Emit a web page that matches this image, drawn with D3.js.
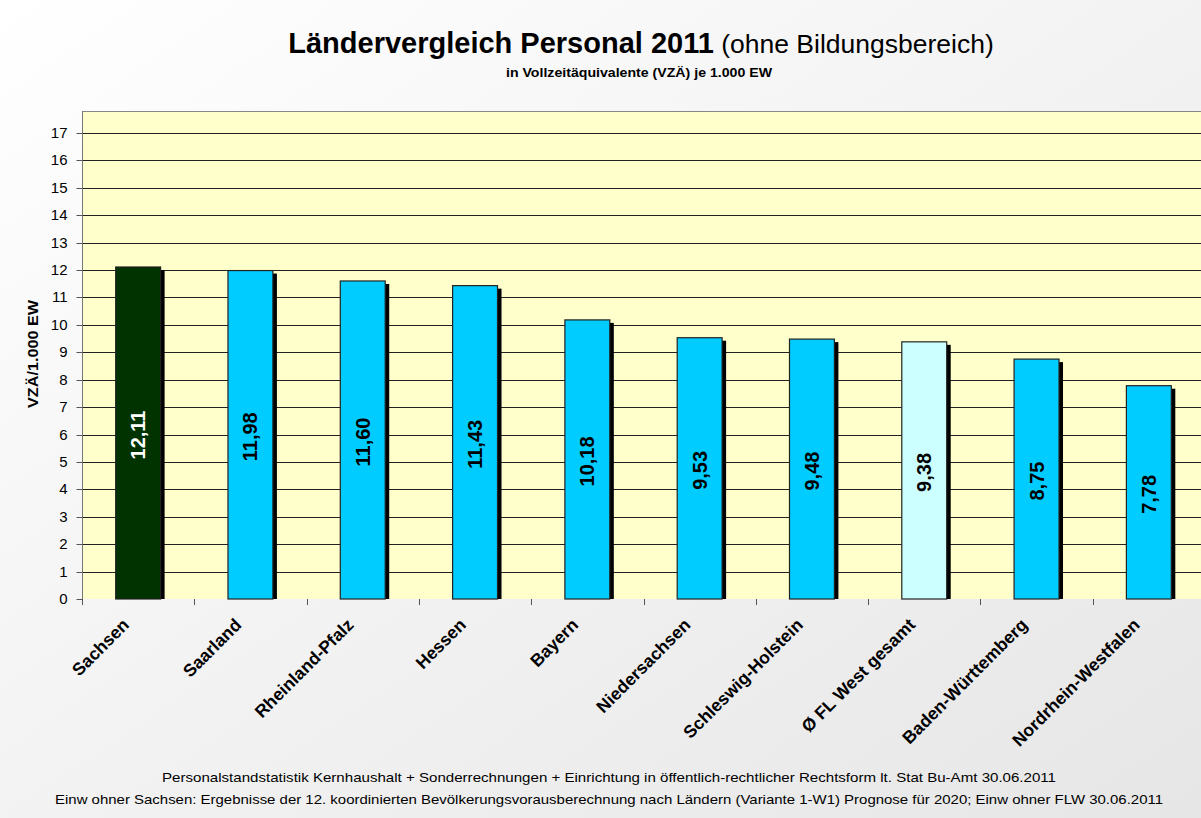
<!DOCTYPE html>
<html>
<meta charset="utf-8">
<title>Ländervergleich Personal 2011</title>
<style>
  body { margin: 0; overflow: hidden; }
  svg { display: block; font-family: "Liberation Sans", Arial, sans-serif; }
  .tick text { font-size: 15px; fill: #000; }
</style>
<body>
<div id="chart"></div>
<script src="https://cdnjs.cloudflare.com/ajax/libs/d3/7.8.5/d3.min.js"></script>
<script>

const laender = ['Sachsen', 'Saarland', 'Rheinland-Pfalz', 'Hessen', 'Bayern', 'Niedersachsen',
  'Schleswig-Holstein', 'Ø FL West gesamt', 'Baden-Württemberg', 'Nordrhein-Westfalen'];
const vza = [12.11, 11.98, 11.60, 11.43, 10.18, 9.53, 9.48, 9.38, 8.75, 7.78];
const yTicks = d3.range(0, 18);

const W = 1201, H = 818;
const margin = { top: 111, right: -4, bottom: 219, left: 82 };
const width = W - margin.left - margin.right;
const height = H - margin.top - margin.bottom; // 17 lands at y=133

const fill = d => d === 'Sachsen' ? '#003300' : (d === 'Ø FL West gesamt' ? '#ccffff' : '#00ccff');
const fmt = v => d3.format('.2f')(v).replace('.', ',');

const svg = d3.select('#chart').append('svg')
  .attr('width', W)
  .attr('height', H);

const grad = svg.append('defs').append('linearGradient')
  .attr('id', 'bg').attr('x1', 0).attr('y1', 0).attr('x2', 1).attr('y2', 1);
grad.append('stop').attr('offset', 0).attr('stop-color', '#ffffff');
grad.append('stop').attr('offset', 1).attr('stop-color', '#e6e6e6');

svg.append('rect').attr('width', W).attr('height', H).attr('fill', 'url(#bg)');

// titles
const title = svg.append('text')
  .attr('x', 641).attr('y', 53)
  .attr('text-anchor', 'middle');
title.append('tspan').attr('font-size', 29).attr('font-weight', 'bold').text('Ländervergleich Personal 2011');
title.append('tspan').attr('font-size', 26.5).text(' (ohne Bildungsbereich)');

svg.append('text')
  .attr('x', 639).attr('y', 77)
  .attr('text-anchor', 'middle')
  .attr('font-size', 13).attr('font-weight', 'bold')
  .attr('textLength', 266).attr('lengthAdjust', 'spacingAndGlyphs')
  .text('in Vollzeitäquivalente (VZÄ) je 1.000 EW');

const g = svg.append('g')
  .attr('transform', `translate(${margin.left},${margin.top})`);

const x = d3.scaleBand()
  .domain(laender)
  .range([0, 1123])
  .paddingInner(0.6)
  .paddingOuter(0.3);

const y = d3.scaleLinear()
  .domain([0, 17.8])
  .range([height, 0]);

g.append('rect')
  .attr('width', width).attr('height', height)
  .attr('fill', '#ffffcc');

g.append('line').attr('x1', 0).attr('x2', width).attr('y1', 0.5).attr('y2', 0.5)
  .attr('stroke', '#888');

// gridlines
g.append('g').selectAll('line')
  .data(yTicks.slice(1))
  .join('line')
  .attr('x1', 0).attr('x2', width)
  .attr('y1', d => Math.round(y(d)) + 0.5).attr('y2', d => Math.round(y(d)) + 0.5)
  .attr('stroke', '#222');

// y axis
const yAxis = g.append('g')
  .attr('transform', 'translate(0.5,0)')
  .call(d3.axisLeft(y).tickValues(yTicks).tickSize(6).tickPadding(9).tickFormat(d3.format('d')));
yAxis.select('.domain').attr('stroke', '#777').attr('d', `M0,0V${height + 6}`);
yAxis.selectAll('.tick line').attr('stroke', '#555');
yAxis.selectAll('.tick').attr('transform', d => `translate(0,${Math.round(y(d)) + 0.5})`);

// x axis ticks at band boundaries
const step = x.step();
g.append('g').selectAll('line')
  .data(d3.range(0, laender.length + 1))
  .join('line')
  .attr('x1', i => Math.round(i * step) + 0.5).attr('x2', i => Math.round(i * step) + 0.5)
  .attr('y1', height).attr('y2', height + 6)
  .attr('stroke', '#555');

// shadows
g.append('g').selectAll('rect')
  .data(laender)
  .join('rect')
  .attr('x', d => x(d) + 4)
  .attr('y', (d, i) => y(vza[i]) + 3)
  .attr('width', x.bandwidth())
  .attr('height', (d, i) => height - y(vza[i]) - 3)
  .attr('fill', '#000');

// bars
g.append('g').selectAll('rect')
  .data(laender)
  .join('rect')
  .attr('x', d => x(d))
  .attr('y', (d, i) => y(vza[i]))
  .attr('width', x.bandwidth())
  .attr('height', (d, i) => height - y(vza[i]))
  .attr('fill', d => fill(d))
  .attr('stroke', '#222')
  .attr('stroke-width', 1.2);

// value labels
g.append('g').selectAll('text')
  .data(laender)
  .join('text')
  .attr('transform', (d, i) => `translate(${x(d) + x.bandwidth() / 2 + 7},${(y(vza[i]) + height) / 2 + 2}) rotate(-90)`)
  .attr('text-anchor', 'middle')
  .attr('font-size', 20).attr('font-weight', 'bold')
  .attr('fill', d => d === 'Sachsen' ? '#fff' : '#000')
  .text((d, i) => fmt(vza[i]));

// category labels
g.append('g').selectAll('text')
  .data(laender)
  .join('text')
  .attr('transform', d => `translate(${x(d) + x.bandwidth() / 2 - 8},${height + 27}) rotate(-45)`)
  .attr('text-anchor', 'end')
  .attr('font-size', 17.5).attr('font-weight', 'bold')
  .text(d => d);

// y axis title
svg.append('text')
  .attr('transform', `translate(38,354) rotate(-90)`)
  .attr('text-anchor', 'middle')
  .attr('font-size', 14).attr('font-weight', 'bold')
  .attr('textLength', 108).attr('lengthAdjust', 'spacingAndGlyphs')
  .text('VZÄ/1.000 EW');

// footer
const foot = ['Personalstandstatistik Kernhaushalt + Sonderrechnungen + Einrichtung in öffentlich-rechtlicher Rechtsform lt. Stat Bu-Amt 30.06.2011',
  'Einw ohner Sachsen: Ergebnisse der 12. koordinierten Bevölkerungsvorausberechnung nach Ländern (Variante 1-W1) Prognose für 2020; Einw ohner FLW 30.06.2011'];
svg.append('g').selectAll('text')
  .data(foot)
  .join('text')
  .attr('x', 609).attr('y', (d, i) => 782 + i * 22)
  .attr('text-anchor', 'middle')
  .attr('font-size', 13.5)
  .attr('textLength', (d, i) => i === 0 ? 894 : 1108)
  .attr('lengthAdjust', 'spacingAndGlyphs')
  .text(d => d);

</script>
</body>
</html>
